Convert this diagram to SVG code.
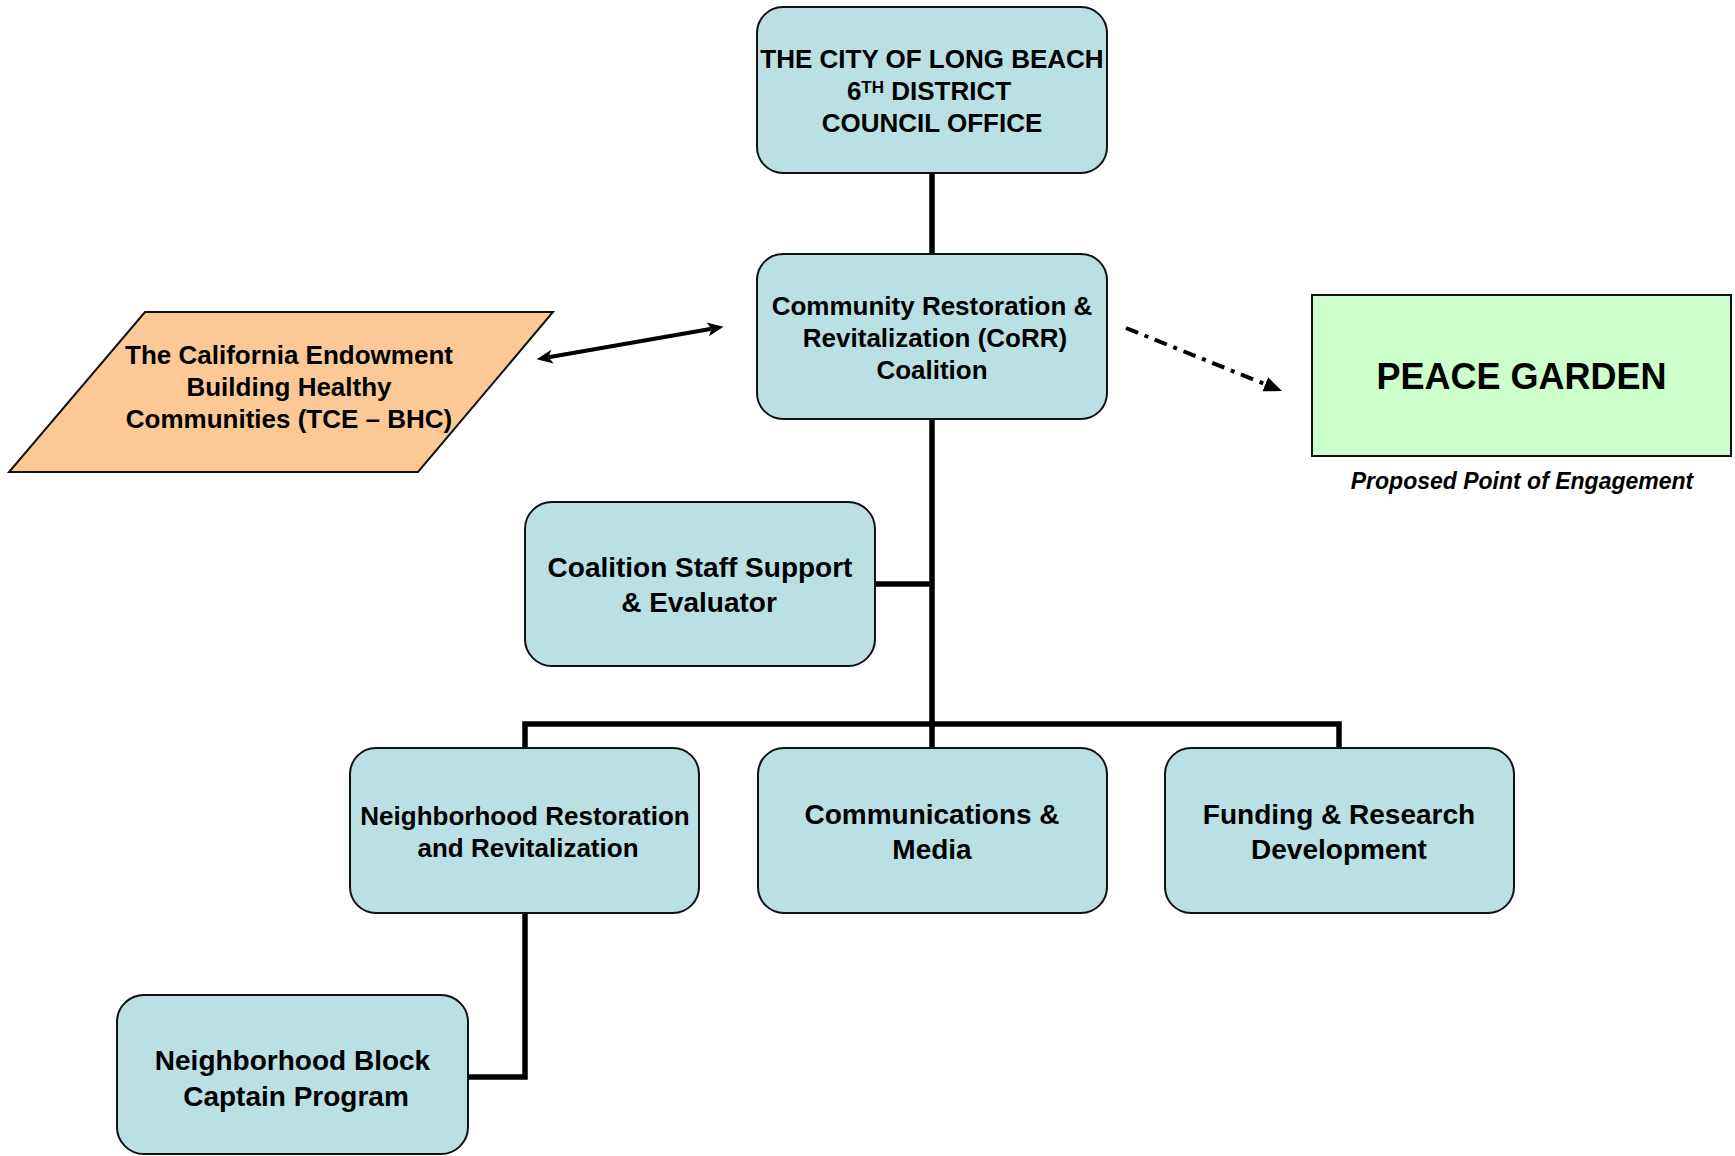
<svg xmlns="http://www.w3.org/2000/svg" width="1735" height="1156" viewBox="0 0 1735 1156">
<style>
.box{fill:#BAE0E3;stroke:#111;stroke-width:2}
.t{font-family:"Liberation Sans",Arial,sans-serif;font-weight:bold;fill:#000;text-anchor:middle}
.f26{font-size:26px}
.f28{font-size:28px}
.conn{fill:none;stroke:#000;stroke-width:5.5}
</style>
<defs>
<marker id="stealth" markerUnits="userSpaceOnUse" viewBox="-1 -8 18 16" refX="4" refY="0" markerWidth="18" markerHeight="16" orient="auto-start-reverse">
<path d="M0,-7 L16,0 L0,7 L4,0 z" fill="#000"/>
</marker>
<marker id="tri" markerUnits="userSpaceOnUse" viewBox="0 -8 19 16" refX="0" refY="0" markerWidth="19" markerHeight="16" orient="auto">
<path d="M0,-7.5 L18,0 L0,7.5 z" fill="#000"/>
</marker>
</defs>
<rect width="1735" height="1156" fill="#fff"/>
<g id="connectors">
<line class="conn" x1="932" y1="173" x2="932" y2="254"/>
<line class="conn" x1="932" y1="419" x2="932" y2="748"/>
<line class="conn" x1="875" y1="584" x2="932" y2="584"/>
<polyline class="conn" points="525,748 525,724 1339,724 1339,748"/>
<polyline class="conn" points="525,913 525,1077 468,1077"/>
<line x1="548.5" y1="357.3" x2="711.7" y2="328.7" stroke="#000" stroke-width="4" marker-start="url(#stealth)" marker-end="url(#stealth)"/>
<line x1="1126" y1="328" x2="1265.3" y2="384.3" stroke="#000" stroke-width="4" stroke-dasharray="13 7 4 7" marker-end="url(#tri)"/>
</g>
<g id="city-office">
<rect class="box" x="757" y="7" width="350" height="166" rx="26"/>
<text class="t f26" x="932" y="68">THE CITY OF LONG BEACH</text>
<text class="t f26" x="929" y="100">6<tspan font-size="17" dy="-7">TH</tspan><tspan dy="7"> DISTRICT</tspan></text>
<text class="t f26" x="932" y="132">COUNCIL OFFICE</text>
</g>
<g id="corr-coalition">
<rect class="box" x="757" y="254" width="350" height="165" rx="26"/>
<text class="t f26" x="932" y="315">Community Restoration &amp;</text>
<text class="t f26" x="935" y="347">Revitalization (CoRR)</text>
<text class="t f26" x="932" y="379">Coalition</text>
</g>
<g id="tce-bhc">
<polygon points="145,312 553,312 418,472 9,472" fill="#FCC996" stroke="#111" stroke-width="2"/>
<text class="t f26" x="289" y="364">The California Endowment</text>
<text class="t f26" x="289" y="396">Building Healthy</text>
<text class="t f26" x="289" y="428">Communities (TCE – BHC)</text>
</g>
<g id="peace-garden">
<rect x="1312" y="295" width="419" height="161" fill="#CCFFCC" stroke="#111" stroke-width="2"/>
<text class="t" x="1521.5" y="389" font-size="36">PEACE GARDEN</text>
<text class="t" x="1522" y="489" font-size="23" font-style="italic">Proposed Point of Engagement</text>
</g>
<g id="staff-support">
<rect class="box" x="525" y="502" width="350" height="164" rx="27"/>
<text class="t f28" x="700" y="577">Coalition Staff Support</text>
<text class="t f28" x="699" y="612">&amp; Evaluator</text>
</g>
<g id="neighborhood-restoration">
<rect class="box" x="350" y="748" width="349" height="165" rx="26"/>
<text class="t f26" x="525" y="825">Neighborhood Restoration</text>
<text class="t f26" x="528" y="857">and Revitalization</text>
</g>
<g id="communications">
<rect class="box" x="758" y="748" width="349" height="165" rx="26"/>
<text class="t f28" x="932" y="824">Communications &amp;</text>
<text class="t f28" x="932" y="859">Media</text>
</g>
<g id="funding">
<rect class="box" x="1165" y="748" width="349" height="165" rx="26"/>
<text class="t f28" x="1339" y="824">Funding &amp; Research</text>
<text class="t f28" x="1339" y="859">Development</text>
</g>
<g id="block-captain">
<rect class="box" x="117" y="995" width="351" height="159" rx="27"/>
<text class="t f28" x="292.5" y="1070">Neighborhood Block</text>
<text class="t f28" x="296" y="1106">Captain Program</text>
</g>
</svg>
